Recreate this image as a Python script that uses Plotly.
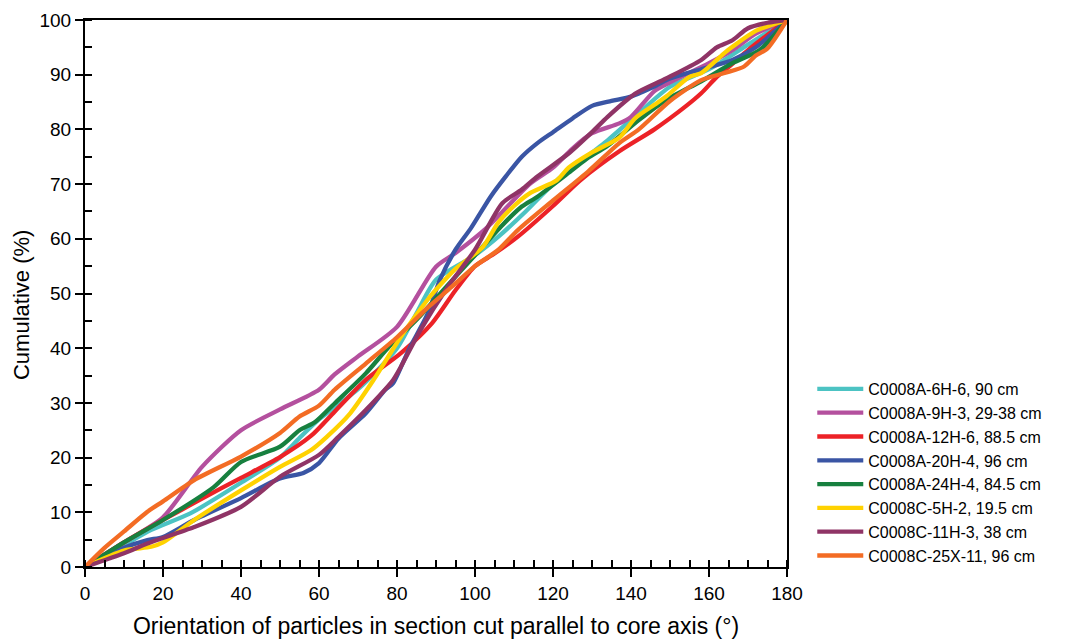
import plotly.graph_objects as go

names = [
    "C0008A-6H-6, 90 cm",
    "C0008A-9H-3, 29-38 cm",
    "C0008A-12H-6, 88.5 cm",
    "C0008A-20H-4, 96 cm",
    "C0008A-24H-4, 84.5 cm",
    "C0008C-5H-2, 19.5 cm",
    "C0008C-11H-3, 38 cm",
    "C0008C-25X-11, 96 cm",
]
colors = ["#4CC3C3", "#B4509E", "#EC2227", "#3A55A4", "#17803F", "#FFD200", "#8F3466", "#F36C24"]

cyan_x = [0, 10, 17, 27, 40, 50, 55, 60, 70, 80, 85, 90, 100, 106, 113, 121, 134, 142, 150, 160, 170, 180]
cyan_y = [0, 4, 6.8, 9.8, 15.4, 20, 23.6, 27, 32.5, 40, 46.4, 52.5, 57, 60.4, 65, 70.7, 78, 83, 87.8, 91, 95.5, 100]

mag_x = [0, 10, 20, 30, 40, 50, 60, 64, 70, 80, 90, 95, 103, 114, 120, 125, 130, 137, 140, 146, 150, 160, 166, 172, 180]
mag_y = [0, 4.5, 9.1, 18.3, 25, 28.8, 32.4, 35.2, 38.5, 43.9, 54.9, 57.4, 62, 70, 73, 76.5, 79.3, 81.1, 82.3, 87, 88.6, 92.1, 94.5, 97.5, 100]

red_x = [0, 10, 20, 30, 40, 50, 58, 64, 72, 81, 89, 95, 100, 105, 111, 120, 127, 137, 146, 154, 158, 162, 166, 170, 180]
red_y = [0, 4.5, 8.6, 12.5, 16.3, 20.1, 24, 28.4, 34.2, 39.1, 44.6, 50.6, 55, 57.3, 60.4, 66, 70.7, 76, 80, 84.2, 86.6, 89.6, 92, 94.5, 100]

blue_x = [0, 10, 16, 20, 28, 40, 50, 56, 60, 65, 72, 77, 79, 83, 88, 91, 95, 99, 104, 108, 112, 116, 120, 125, 130, 135, 140, 145, 150, 158, 166, 172, 180]
blue_y = [0, 3.5, 4.9, 5.5, 8.6, 12.6, 16.2, 17.2, 19, 23.5, 28.1, 32.4, 33.6, 39.7, 46.5, 52.5, 58, 62, 67.7, 71.5, 75, 77.5, 79.5, 82, 84.3, 85.2, 86, 87.5, 89.3, 91, 92.7, 95, 100]

green_x = [0, 10, 20, 33, 40, 50, 55, 59, 64, 72, 78, 85, 93, 100, 107, 112, 116, 125, 129, 134, 142, 149, 158, 166, 173, 180]
green_y = [0, 4.5, 8.6, 14.6, 19.2, 22, 25, 26.5, 29.9, 35.4, 40.3, 45.2, 51.5, 57, 62.5, 65.9, 67.7, 72.6, 74.8, 77, 81.7, 85.4, 88.8, 92.1, 94.5, 100]

yel_x = [0, 10, 17, 20, 28, 40, 50, 58, 62, 68, 74, 81, 88, 91, 95, 102, 106, 110, 114, 121, 124, 130, 137, 141, 146, 149, 155, 158, 164, 166, 172, 180]
yel_y = [0, 3, 3.7, 4.5, 8.6, 14, 18.3, 21.4, 23.8, 28.1, 34.2, 42.1, 49, 51.5, 54.5, 58.5, 63, 66, 68.3, 70.7, 73, 75.8, 78.5, 82, 84.5, 86, 89.6, 90.3, 94, 95.1, 98, 100]

dp_x = [0, 10, 16, 28, 40, 50, 60, 65, 72, 79, 81, 86, 93, 100, 107, 112, 116, 124, 130, 134, 141, 149, 158, 162, 166, 170, 175, 180]
dp_y = [0, 2.5, 4.3, 7.3, 11, 16.5, 20.5, 23.8, 28.7, 34.2, 36.6, 43.3, 51.2, 58, 66.5, 69, 71.4, 75.6, 79.5, 82.3, 86.5, 89.3, 92.7, 95, 96.3, 98.5, 99.5, 100]

or_x = [0, 5, 10, 16, 20, 28, 40, 50, 55, 60, 64, 72, 80, 88, 94, 100, 106, 111, 120, 129, 137, 142, 150, 158, 164, 169, 172, 175, 180]
or_y = [0, 3.5, 6.5, 10.1, 12, 15.9, 20.2, 24.5, 27.5, 29.5, 32.4, 37.2, 42, 47.5, 51.2, 55, 58, 61.6, 67, 72.3, 77.5, 80, 85.2, 89, 90.3, 91.5, 93.5, 94.8, 100]

series_x = [cyan_x, mag_x, red_x, blue_x, green_x, yel_x, dp_x, or_x]
series_y = [cyan_y, mag_y, red_y, blue_y, green_y, yel_y, dp_y, or_y]

x_ticks = [0, 20, 40, 60, 80, 100, 120, 140, 160, 180]
y_ticks = [0, 10, 20, 30, 40, 50, 60, 70, 80, 90, 100]

fig = go.Figure()
for n, c, xs, ys in zip(names, colors, series_x, series_y):
    fig.add_trace(go.Scatter(x=xs, y=ys, name=n, mode="lines",
                             line=dict(color=c, width=4.3, shape="spline", smoothing=0.7)))

font = "Liberation Sans, Arial, sans-serif"
fig.update_layout(
    width=1074, height=643,
    margin=dict(l=85, r=287, t=20, b=76, autoexpand=False),
    paper_bgcolor="white", plot_bgcolor="white",
    font=dict(family=font, color="black"),
    showlegend=True,
    legend=dict(x=1.036, y=0.3565, xanchor="left", yanchor="top",
                font=dict(size=16, family=font), bgcolor="rgba(0,0,0,0)",
                tracegroupgap=0, itemwidth=46),
    xaxis=dict(range=[0, 180], tickvals=x_ticks, ticks="outside", ticklen=8, tickwidth=2,
               tickcolor="black", showline=True, linecolor="black", linewidth=2, mirror=True,
               showgrid=False, zeroline=False, tickfont=dict(size=19), automargin=False,
               minor=dict(dtick=5, ticks="inside", ticklen=7, tickwidth=1.5, tickcolor="black", showgrid=False),
               title=dict(text="Orientation of particles in section cut parallel to core axis (°)",
                          font=dict(size=23), standoff=15)),
    yaxis=dict(range=[0, 100], tickvals=y_ticks, ticks="outside", ticklen=8, tickwidth=2,
               tickcolor="black", showline=True, linecolor="black", linewidth=2, mirror=True,
               showgrid=False, zeroline=False, tickfont=dict(size=19), automargin=False,
               minor=dict(dtick=5, ticks="inside", ticklen=7, tickwidth=1.5, tickcolor="black", showgrid=False)),
    annotations=[dict(text="Cumulative (%)", textangle=-90, xref="paper", yref="paper",
                      x=-0.0897, y=0.479, xanchor="center", yanchor="middle",
                      showarrow=False, font=dict(size=22, family=font))],
)
fig.write_html("out.html")
